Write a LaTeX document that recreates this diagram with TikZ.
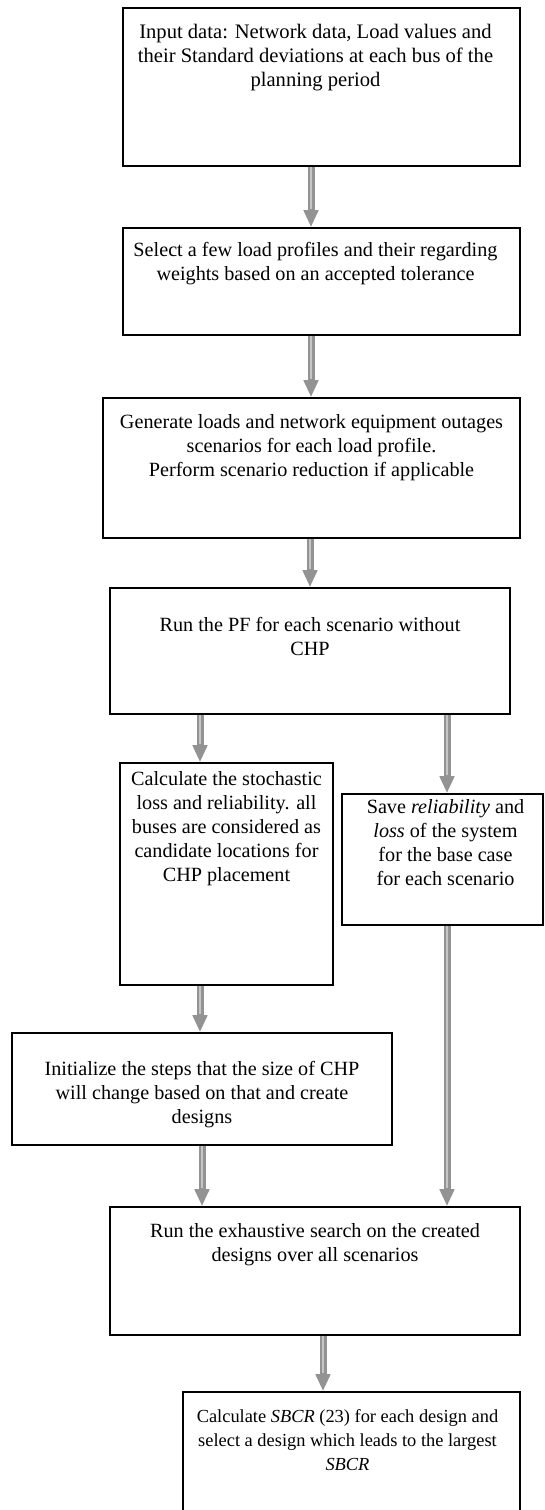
\documentclass[tikz,border=0pt]{standalone}
\usepackage{fontspec}
\setmainfont{Liberation Serif}
\usetikzlibrary{positioning,arrows.meta}

\begin{document}
\begin{tikzpicture}[x=1pt,y=-1pt,
    box/.style={draw,line width=1.6pt,inner sep=0pt},
    boxtext/.style={align=center,inner sep=0pt,font=\fontsize{20.2}{24}\selectfont},
    fatarrow/.style={draw=gray!85,line width=7pt,-{Triangle[length=17pt,width=14pt]}},
    fatstripe/.style={draw=gray!45,line width=2.2pt,shorten >=18pt}]
  \useasboundingbox (0,0) rectangle (545,1510);
  % boxes
  \node[box,minimum width=397pt,minimum height=158pt] (b1) at (321.5,87) {};
  \node[box,minimum width=397pt,minimum height=107pt] (b2) at (321.5,281.5) {};
  \node[box,minimum width=417pt,minimum height=140pt] (b3) at (311.5,468) {};
  \node[box,minimum width=400pt,minimum height=126pt] (b4) at (310,651) {};
  \node[box,minimum width=213pt,minimum height=222pt] (b5) at (226.5,874) {};
  \node[box,minimum width=201pt,minimum height=131pt] (b6) at (442.5,859.5) {};
  \node[box,minimum width=380pt,minimum height=112pt] (b7) at (202,1089) {};
  \node[box,minimum width=410pt,minimum height=128pt] (b8) at (315,1271) {};
  \node[box,minimum width=337pt,minimum height=138pt] (b9) at (351.5,1461) {};
  % texts
  \node[boxtext,below=17pt of b1.north,xshift=-6pt,font=\fontsize{20.6}{24}\selectfont] {Input data: Network data, Load values and\\their Standard deviations at each bus of the\\planning period};
  \node[boxtext,below=15pt of b2.north,xshift=-6pt] {Select a few load profiles and their regarding\\weights based on an accepted tolerance};
  \node[boxtext,below=17pt of b3.north] {Generate loads and network equipment outages\\scenarios for each load profile.\\Perform scenario reduction if applicable};
  \node[boxtext,below=30pt of b4.north] {Run the PF for each scenario without\\CHP};
  \node[boxtext,below=9pt of b5.north] {Calculate the stochastic\\loss and reliability. all\\buses are considered as\\candidate locations for\\CHP placement};
  \node[boxtext,below=6pt of b6.north,xshift=3pt] {Save \textit{reliability} and\\\textit{loss} of the system\\for the base case\\for each scenario};
  \node[boxtext,below=29pt of b7.north] {Initialize the steps that the size of CHP\\will change based on that and create\\designs};
  \node[boxtext,below=17pt of b8.north] {Run the exhaustive search on the created\\designs over all scenarios};
  \node[boxtext,below=18pt of b9.north,xshift=-4pt,font=\fontsize{18.4}{24}\selectfont] {Calculate \textit{SBCR} (23) for each design and\\select a design which leads to the largest\\\textit{SBCR}};
  % arrows
  \foreach \from/\to/\dx in {b1/b2/-10.5,b2/b3/-10.5,b3/b4/-1.5,b4/b5/-110,b4/b6/137,
      b5/b7/-26.5,b6/b8/4.5,b7/b8/0,b8/b9/8} {
    \draw[fatarrow] ([xshift=\dx pt]\from.south) -- ([xshift=\dx pt]\from.south |- \to.north);
    \draw[fatstripe] ([xshift=\dx pt]\from.south) -- ([xshift=\dx pt]\from.south |- \to.north);
  }
\end{tikzpicture}
\end{document}
